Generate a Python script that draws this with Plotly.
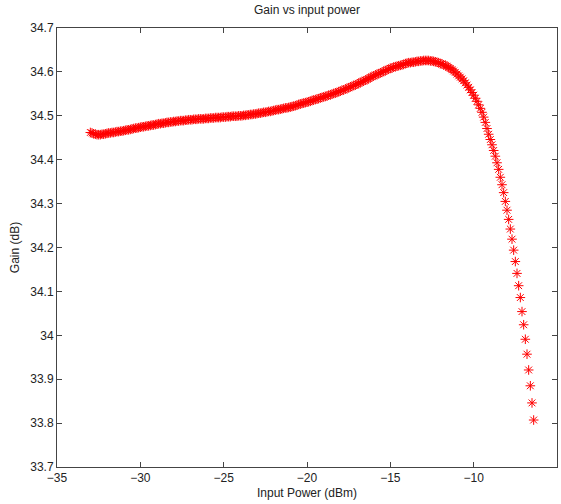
import plotly.graph_objects as go

input_power = [
    -33.0, -32.9, -32.8, -32.7, -32.6, -32.5, -32.4, -32.3, -32.2, -32.1, -32.0,
    -31.9, -31.8, -31.7, -31.6, -31.5, -31.4, -31.3, -31.2, -31.1, -31.0,
    -30.9, -30.8, -30.7, -30.6, -30.5, -30.4, -30.3, -30.2, -30.1, -30.0,
    -29.9, -29.8, -29.7, -29.6, -29.5, -29.4, -29.3, -29.2, -29.1, -29.0,
    -28.9, -28.8, -28.7, -28.6, -28.5, -28.4, -28.3, -28.2, -28.1, -28.0,
    -27.9, -27.8, -27.7, -27.6, -27.5, -27.4, -27.3, -27.2, -27.1, -27.0,
    -26.9, -26.8, -26.7, -26.6, -26.5, -26.4, -26.3, -26.2, -26.1, -26.0,
    -25.9, -25.8, -25.7, -25.6, -25.5, -25.4, -25.3, -25.2, -25.1, -25.0,
    -24.9, -24.8, -24.7, -24.6, -24.5, -24.4, -24.3, -24.2, -24.1, -24.0,
    -23.9, -23.8, -23.7, -23.6, -23.5, -23.4, -23.3, -23.2, -23.1, -23.0,
    -22.9, -22.8, -22.7, -22.6, -22.5, -22.4, -22.3, -22.2, -22.1, -22.0,
    -21.9, -21.8, -21.7, -21.6, -21.5, -21.4, -21.3, -21.2, -21.1, -21.0,
    -20.9, -20.8, -20.7, -20.6, -20.5, -20.4, -20.3, -20.2, -20.1, -20.0,
    -19.9, -19.8, -19.7, -19.6, -19.5, -19.4, -19.3, -19.2, -19.1, -19.0,
    -18.9, -18.8, -18.7, -18.6, -18.5, -18.4, -18.3, -18.2, -18.1, -18.0,
    -17.9, -17.8, -17.7, -17.6, -17.5, -17.4, -17.3, -17.2, -17.1, -17.0,
    -16.9, -16.8, -16.7, -16.6, -16.5, -16.4, -16.3, -16.2, -16.1, -16.0,
    -15.9, -15.8, -15.7, -15.6, -15.5, -15.4, -15.3, -15.2, -15.1, -15.0,
    -14.9, -14.8, -14.7, -14.6, -14.5, -14.4, -14.3, -14.2, -14.1, -14.0,
    -13.9, -13.8, -13.7, -13.6, -13.5, -13.4, -13.3, -13.2, -13.1, -13.0,
    -12.9, -12.8, -12.7, -12.6, -12.5, -12.4, -12.3, -12.2, -12.1, -12.0,
    -11.9, -11.8, -11.7, -11.6, -11.5, -11.4, -11.3, -11.2, -11.1, -11.0,
    -10.9, -10.8, -10.7, -10.6, -10.5, -10.4, -10.3, -10.2, -10.1, -10.0,
    -9.9, -9.8, -9.7, -9.6, -9.5, -9.4,
    -9.3, -9.2, -9.1, -9.0, -8.9, -8.8, -8.7, -8.6, -8.5, -8.4,
    -8.3, -8.2, -8.1, -8.0, -7.9, -7.8, -7.7, -7.6, -7.5, -7.4,
    -7.3, -7.2, -7.1, -7.0, -6.9, -6.8, -6.7, -6.6, -6.5, -6.4,
]

gain_db = [
    34.462, 34.461, 34.459, 34.458, 34.457, 34.457, 34.457, 34.458, 34.458, 34.459, 34.460,
    34.461, 34.461, 34.462, 34.462, 34.463, 34.464, 34.464, 34.465, 34.465, 34.466,
    34.467, 34.468, 34.468, 34.469, 34.470, 34.471, 34.472, 34.472, 34.473, 34.474,
    34.475, 34.475, 34.476, 34.477, 34.477, 34.478, 34.479, 34.479, 34.480, 34.481,
    34.482, 34.482, 34.483, 34.483, 34.484, 34.485, 34.485, 34.486, 34.486, 34.487,
    34.487, 34.488, 34.488, 34.489, 34.489, 34.489, 34.490, 34.490, 34.491, 34.491,
    34.491, 34.492, 34.492, 34.492, 34.493, 34.493, 34.493, 34.493, 34.494, 34.494,
    34.494, 34.495, 34.495, 34.495, 34.496, 34.496, 34.496, 34.496, 34.497, 34.497,
    34.497, 34.498, 34.498, 34.498, 34.499, 34.499, 34.499, 34.499, 34.500, 34.500,
    34.500, 34.501, 34.501, 34.502, 34.502, 34.503, 34.503, 34.504, 34.504, 34.505,
    34.506, 34.506, 34.507, 34.508, 34.508, 34.509, 34.510, 34.510, 34.511, 34.512,
    34.513, 34.514, 34.514, 34.515, 34.516, 34.517, 34.518, 34.518, 34.519, 34.520,
    34.521, 34.522, 34.523, 34.524, 34.526, 34.527, 34.528, 34.529, 34.530, 34.531,
    34.532, 34.533, 34.535, 34.536, 34.537, 34.538, 34.539, 34.541, 34.542, 34.543,
    34.544, 34.545, 34.547, 34.548, 34.549, 34.551, 34.552, 34.553, 34.555, 34.556,
    34.558, 34.559, 34.561, 34.562, 34.564, 34.566, 34.567, 34.569, 34.570, 34.572,
    34.574, 34.576, 34.578, 34.579, 34.581, 34.583, 34.585, 34.587, 34.589, 34.591,
    34.593, 34.594, 34.596, 34.598, 34.599, 34.601, 34.603, 34.605, 34.606, 34.608,
    34.609, 34.611, 34.612, 34.613, 34.614, 34.615, 34.616, 34.617, 34.619, 34.620,
    34.621, 34.621, 34.622, 34.622, 34.623, 34.624, 34.624, 34.625, 34.625, 34.626,
    34.626, 34.626, 34.626, 34.625, 34.625, 34.624, 34.623, 34.622, 34.621, 34.619,
    34.618, 34.616, 34.615, 34.613, 34.610, 34.608, 34.605, 34.602, 34.599, 34.595,
    34.591, 34.588, 34.584, 34.580, 34.575, 34.570, 34.565, 34.559, 34.553, 34.547,
    34.540, 34.533, 34.525, 34.517, 34.508, 34.497,
    34.485, 34.471, 34.458, 34.446, 34.434, 34.421, 34.408, 34.393, 34.378, 34.360,
    34.343, 34.325, 34.305, 34.285, 34.264, 34.242, 34.219, 34.194, 34.168, 34.141,
    34.113, 34.086, 34.054, 34.024, 33.991, 33.957, 33.921, 33.885, 33.846, 33.807,
]

x_ticks = [-35, -30, -25, -20, -15, -10, -5]
y_ticks = [33.7, 33.8, 33.9, 34.0, 34.1, 34.2, 34.3, 34.4, 34.5, 34.6, 34.7]
y_tick_text = ["33.7", "33.8", "33.9", "34", "34.1", "34.2", "34.3", "34.4", "34.5", "34.6", "34.7"]
x_tick_text = ["\u221235", "\u221230", "\u221225", "\u221220", "\u221215", "\u221210", "\u22125"]

fig = go.Figure()
fig.add_trace(go.Scatter(
    x=input_power, y=gain_db, mode="markers",
    marker=dict(symbol="asterisk-open", size=8, color="#ff0000",
                line=dict(color="#ff0000", width=1)),
    showlegend=False,
))

font = "Liberation Sans, Arial, sans-serif"
axis_common = dict(
    showgrid=False, zeroline=False, showline=True, linecolor="#444444", linewidth=1,
    mirror="ticks", ticks="inside", ticklen=5, tickcolor="#444444", tickwidth=1,
    tickfont=dict(family=font, size=12, color="#222222"),
)

fig.update_layout(
    width=561, height=504,
    margin=dict(l=57, r=4, t=28, b=37),
    paper_bgcolor="white", plot_bgcolor="white",
    font=dict(family=font, size=12, color="#222222"),
    title=dict(text="Gain vs input power", x=(57 + 557) / 2 / 561, xanchor="center",
               y=1 - 10 / 504, yanchor="middle", yref="container",
               font=dict(family=font, size=12, color="#222222")),
    xaxis=dict(range=[-35, -5], tickvals=x_ticks, ticktext=x_tick_text,
               title=dict(text="Input Power (dBm)", standoff=4,
                          font=dict(family=font, size=12, color="#222222")),
               **axis_common),
    yaxis=dict(range=[33.7, 34.7], tickvals=y_ticks, ticktext=y_tick_text,
               title=dict(text="Gain (dB)", standoff=8,
                          font=dict(family=font, size=12, color="#222222")),
               **axis_common),
)

fig.write_html("out.html")
